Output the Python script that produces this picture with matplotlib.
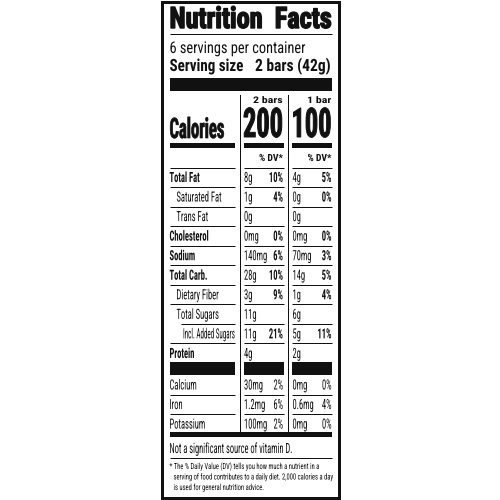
import matplotlib.pyplot as plt
from matplotlib.font_manager import FontProperties
from matplotlib.patches import Rectangle
from matplotlib.patheffects import AbstractPathEffect
from matplotlib.text import Text
from matplotlib.textpath import TextPath
from matplotlib.transforms import Affine2D, Bbox

# ---- label contents ----
title = "Nutrition  Facts"
servings_text = "6 servings per container"
serving_label = "Serving size"
serving_size = "2 bars (42g)"
col_heads = ["2 bars", "1 bar"]
calories = ["200", "100"]

nutrients = ["Total Fat", "Saturated Fat", "Trans Fat", "Cholesterol", "Sodium",
             "Total Carb.", "Dietary Fiber", "Total Sugars", "Incl. Added Sugars", "Protein"]
indent = [0, 1, 1, 0, 0, 0, 1, 1, 2, 0]
is_bold = [True, False, False, True, True, True, False, False, False, True]
amt_2bars = ["8g", "1g", "0g", "0mg", "140mg", "28g", "3g", "11g", "11g", "4g"]
dv_2bars = ["10%", "4%", "", "0%", "6%", "10%", "9%", "", "21%", ""]
amt_1bar = ["4g", "0g", "0g", "0mg", "70mg", "14g", "1g", "6g", "5g", "2g"]
dv_1bar = ["5%", "0%", "", "0%", "3%", "5%", "4%", "", "11%", ""]

minerals = ["Calcium", "Iron", "Potassium"]
min_amt_2bars = ["30mg", "1.2mg", "100mg"]
min_dv_2bars = ["2%", "6%", "2%"]
min_amt_1bar = ["0mg", "0.6mg", "0mg"]
min_dv_1bar = ["0%", "4%", "0%"]

vitd_note = "Not a significant source of vitamin D."
footnote = ["* The % Daily Value (DV) tells you how much a nutrient in a",
            "serving of food contributes to a daily diet. 2,000 calories a day",
            "is used for general nutrition advice."]

FONT = ["Roboto Condensed", "DejaVu Sans"]
INK = "#111111"
PX = 0.72  # points per pixel at dpi 100


# the printed label face is narrower than any installed one: squeeze sideways
class Squeeze(AbstractPathEffect):
    def __init__(self, text):
        super().__init__()
        self.text = text

    def draw_path(self, renderer, gc, tpath, affine, rgbFace=None):
        t = self.text
        x0 = t.get_transform().transform(t.get_unitless_position())[0]
        tr = affine + Affine2D().translate(-x0, 0).scale(t.sx, 1).translate(x0, 0)
        if t.heavy:
            gc2 = renderer.new_gc()
            gc2.copy_properties(gc)
            gc2.set_linewidth(t.heavy)
            gc2.set_foreground(rgbFace)
            renderer.draw_path(gc2, tpath, tr, rgbFace)
        else:
            renderer.draw_path(gc, tpath, tr, rgbFace)


class SqText(Text):
    sx = 1.0
    heavy = 0

    def get_window_extent(self, renderer=None, dpi=None):
        bb = super().get_window_extent(renderer, dpi)
        x0 = self.get_transform().transform(self.get_unitless_position())[0]
        return Bbox([[x0 + (bb.x0 - x0) * self.sx, bb.y0],
                     [x0 + (bb.x1 - x0) * self.sx, bb.y1]])


fig = plt.figure(figsize=(5, 5), dpi=100)
ax = fig.add_axes([0, 0, 1, 1])
ax.set_xlim(0, 500)
ax.set_ylim(500, 0)
ax.axis("off")
rend = fig.canvas.get_renderer()


def size_for(cap, weight):
    fp = FontProperties(family=FONT, weight=weight)
    ratio = TextPath((0, 0), "H", size=1, prop=fp).get_extents().height
    return cap * PX / ratio


def natural_width(s, cap, weight):
    t = Text(0, 0, s, fontsize=size_for(cap, weight), fontweight=weight, family=FONT)
    t.set_figure(fig)
    return t.get_window_extent(rend).width


def txt(x, y, s, cap, weight="normal", ha="left", width=None, sx=1.0, heavy=0):
    if not s:
        return None
    t = SqText(x, y, s, fontsize=size_for(cap, weight), fontweight=weight, ha=ha,
               va="baseline", family=FONT, color=INK)
    ax.add_artist(t)
    t.sx = width / natural_width(s, cap, weight) if width else sx
    t.heavy = heavy
    t.set_path_effects([Squeeze(t)])
    return t


def bar(x0, x1, y0, y1):
    ax.add_patch(Rectangle((x0, y0), x1 - x0, y1 - y0, color=INK, lw=0))


def hline(y, x0, x1, w=1.0):
    ax.plot([x0, x1], [y, y], color=INK, lw=w * PX, solid_capstyle="butt")


L, R = 169.5, 332
C1, C2 = 239.5, 288          # column dividers
seg_l = (L, 235)
seg_m = (243.5, 283.5)
seg_r = (292, R)

# outer frame
ax.add_patch(Rectangle((162, 1.5), 177, 496.5, fill=False, ec=INK, lw=3 * PX))

# header
txt(L, 28, title, 21, "bold", width=162, heavy=1.0)
hline(33.5, L, R)
txt(L, 53, servings_text, 11.5, width=135)
txt(L, 71, serving_label, 12, "bold", width=74)
txt(R - 1, 71, serving_size, 12, "bold", ha="right", width=76)
bar(L, R, 78, 91)

for cx in (C1, C2):
    ax.plot([cx, cx], [95, 432], color=INK, lw=1 * PX)

sx_head = 30 / natural_width(col_heads[0], 6.5, "bold")
txt(seg_m[1] - 0.5, 103, col_heads[0], 6.5, "bold", ha="right", sx=sx_head)
txt(R - 0.5, 103, col_heads[1], 6.5, "bold", ha="right", sx=sx_head)
txt(L, 138, "Calories", 20, "bold", width=55, heavy=0.5)
sx_cal = 40 / natural_width(calories[0], 29, "bold")
txt(seg_m[1] - 0.5, 137, calories[0], 29, "bold", ha="right", sx=sx_cal, heavy=0.7)
txt(R - 0.5, 137, calories[1], 29, "bold", ha="right", sx=sx_cal, heavy=0.7)
for a, b in (seg_l, seg_m, seg_r):
    bar(a, b, 143, 148)
sx_dv = 24 / natural_width("% DV*", 7, "bold")
txt(seg_m[1] - 0.5, 161, "% DV*", 7, "bold", ha="right", sx=sx_dv)
txt(R - 0.5, 161, "% DV*", 7, "bold", ha="right", sx=sx_dv)

# nutrient rows
CAP = 10
sx_row = 45 / natural_width("Saturated Fat", CAP, "normal")
top, step = 167.5, 19.55
for i, name in enumerate(nutrients):
    y_line = top + i * step
    hline(y_line, 181 if indent[i] == 2 else L, seg_l[1])
    hline(y_line, *seg_m)
    hline(y_line, *seg_r)
    base = y_line + 14.5
    x = L + 7 * indent[i] - (0.5 if indent[i] == 2 else 0)
    w = "bold" if is_bold[i] else "normal"
    room = (seg_l[1] - x) / natural_width(name, CAP, w)
    txt(x, base, name, CAP, w, sx=min(sx_row, room))
    txt(244, base, amt_2bars[i], CAP, sx=sx_row)
    txt(seg_m[1] - 0.5, base, dv_2bars[i], CAP, "bold", ha="right", sx=sx_row)
    txt(292.5, base, amt_1bar[i], CAP, sx=sx_row)
    txt(R - 0.5, base, dv_1bar[i], CAP, "bold", ha="right", sx=sx_row)

for a, b in (seg_l, seg_m, seg_r):
    bar(a, b, 362, 375)

# minerals
mtop = 375
for i, name in enumerate(minerals):
    y_line = mtop + i * step
    if i > 0:
        hline(y_line, *seg_l)
        hline(y_line, *seg_m)
        hline(y_line, *seg_r)
    base = y_line + 14.5
    txt(L, base, name, CAP, sx=sx_row)
    txt(244, base, min_amt_2bars[i], CAP, sx=sx_row)
    txt(seg_m[1] - 0.5, base, min_dv_2bars[i], CAP, ha="right", sx=sx_row)
    txt(292.5, base, min_amt_1bar[i], CAP, sx=sx_row)
    txt(R - 0.5, base, min_dv_1bar[i], CAP, ha="right", sx=sx_row)

bar(L, R, 432, 437)
txt(L, 453, vitd_note, 10, width=123)
hline(457.5, L, R)
sx_foot = 158 / natural_width(footnote[1], 6, "normal")
for j, line in enumerate(footnote):
    txt(L if j == 0 else 173.5, 469 + j * 10.5, line, 6, sx=sx_foot)

fig.savefig("out.png", dpi=100, facecolor="white")
